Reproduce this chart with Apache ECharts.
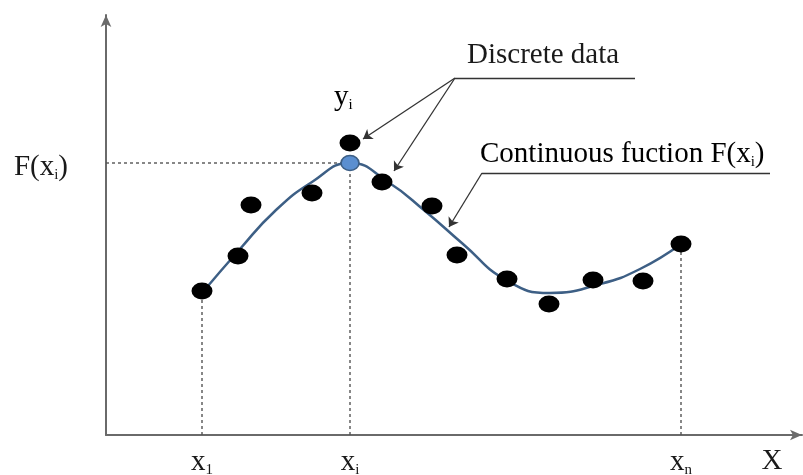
<!DOCTYPE html>
<html><head><meta charset="utf-8">
<script src="https://cdn.jsdelivr.net/npm/echarts@6/dist/echarts.min.js"></script>
<style>html,body{margin:0;padding:0;background:#fff}#c{width:803px;height:475px}</style>
</head><body><div id="c"></div>
<script>
// discrete data points (x, y)
const discreteX = [96, 132, 145, 206, 244, 276, 326, 351, 401, 443, 487, 537, 575];
const discreteY = [144, 179, 230, 242, 292, 253, 229, 180, 156, 131, 155, 154, 191];
// continuous function F(x) sample points
const curveX = [96, 134, 169, 206, 244, 282, 319, 357, 400, 444, 494, 534, 575];
const curveY = [142, 186, 224, 253, 272, 253, 224, 191, 155, 142, 151, 166, 191];
// highlighted point (xi, F(xi))
const xi = 244, Fxi = 272;
const x1 = 96, y1 = 144, xn = 575, yn = 191;
// axis labels
const xTickValues = [96, 244, 575, 666];
const xTickLabels = ['{a|x}{s|1}', '{a|x}{s|i}', '{a|x}{s|n}', '{a|X}'];
const yTickValues = [272];
const yTickLabels = ['{a|F(x}{s|i}{a|)}'];

const serif = '"Liberation Serif", "DejaVu Serif", serif';
const rich = {
  a: {fontFamily: serif, fontSize: 29, color: '#1a1a1a'},
  s: {fontFamily: serif, fontSize: 15, color: '#1a1a1a', padding: [16, 0, 0, 0]}
};
const dashStyle = {color: '#555', width: 1.4, type: [3, 3]};

const chart = echarts.init(document.getElementById('c'));
chart.setOption({
  animation: false,
  grid: {left: 106, right: 1, top: 15, bottom: 40, containLabel: false, outerBoundsMode: 'none'},
  xAxis: {
    type: 'value', min: 0, max: 696,
    splitLine: {show: false},
    axisTick: {show: false},
    axisLine: {lineStyle: {color: '#6a6a6a', width: 2}, symbol: ['none', 'arrow'], symbolSize: [8, 12]},
    axisLabel: {
      customValues: xTickValues, margin: 12,
      formatter: v => xTickLabels[xTickValues.indexOf(v)], rich: rich
    }
  },
  yAxis: {
    type: 'value', min: 0, max: 420,
    splitLine: {show: false},
    axisTick: {show: false},
    axisLine: {lineStyle: {color: '#6a6a6a', width: 2}, symbol: ['none', 'arrow'], symbolSize: [8, 12]},
    axisLabel: {
      customValues: yTickValues, margin: 38, padding: [8, 0, 0, 0],
      formatter: v => yTickLabels[yTickValues.indexOf(v)], rich: rich
    }
  },
  graphic: [
    {type: 'text', left: 467, top: 41, style: {text: 'Discrete data', font: '29px ' + serif, fill: '#1a1a1a'}},
    {type: 'text', left: 480, top: 140, style: {text: '{a|Continuous fuction F(x}{s|i}{a|)}', rich: rich}},
    {type: 'text', left: 334, top: 83, style: {text: '{a|y}{s|i}', rich: rich}}
  ],
  series: [
    {type: 'line', data: [[0, Fxi], [xi, Fxi]], symbol: 'none', lineStyle: dashStyle, z: 1},
    {type: 'line', data: [[xi, 0], [xi, Fxi]], symbol: 'none', lineStyle: dashStyle, z: 1},
    {type: 'line', data: [[x1, 0], [x1, y1]], symbol: 'none', lineStyle: dashStyle, z: 1},
    {type: 'line', data: [[xn, 0], [xn, yn]], symbol: 'none', lineStyle: dashStyle, z: 1},
    {
      type: 'line', smooth: 0.5, symbol: 'none',
      data: curveX.map((x, i) => [x, curveY[i]]),
      lineStyle: {color: '#3d5f85', width: 2.5}, z: 2
    },
    {
      type: 'scatter', symbol: 'circle', symbolSize: [21, 17],
      data: discreteX.map((x, i) => [x, discreteY[i]]),
      itemStyle: {color: '#000', opacity: 1}, z: 3
    },
    {
      type: 'scatter', symbol: 'circle', symbolSize: [18, 15],
      data: [[xi, Fxi]],
      itemStyle: {color: '#5b8fd0', borderColor: '#3d5f85', borderWidth: 1.5, opacity: 1}, z: 4
    },
    {
      type: 'lines', coordinateSystem: 'cartesian2d', symbol: ['none', 'none'],
      lineStyle: {color: '#333', width: 1.3, opacity: 1},
      data: [
        {coords: [[349, 357], [529, 357]]},
        {coords: [[376, 262], [664, 262]]}
      ], z: 5
    },
    {
      type: 'lines', coordinateSystem: 'cartesian2d', symbol: ['none', 'arrow'], symbolSize: 9,
      lineStyle: {color: '#333', width: 1.3, opacity: 1},
      data: [
        {coords: [[349, 357], [257, 296]]},
        {coords: [[349, 357], [288, 264]]},
        {coords: [[376, 262], [343, 208]]}
      ], z: 5
    }
  ]
});
</script>
</body></html>
